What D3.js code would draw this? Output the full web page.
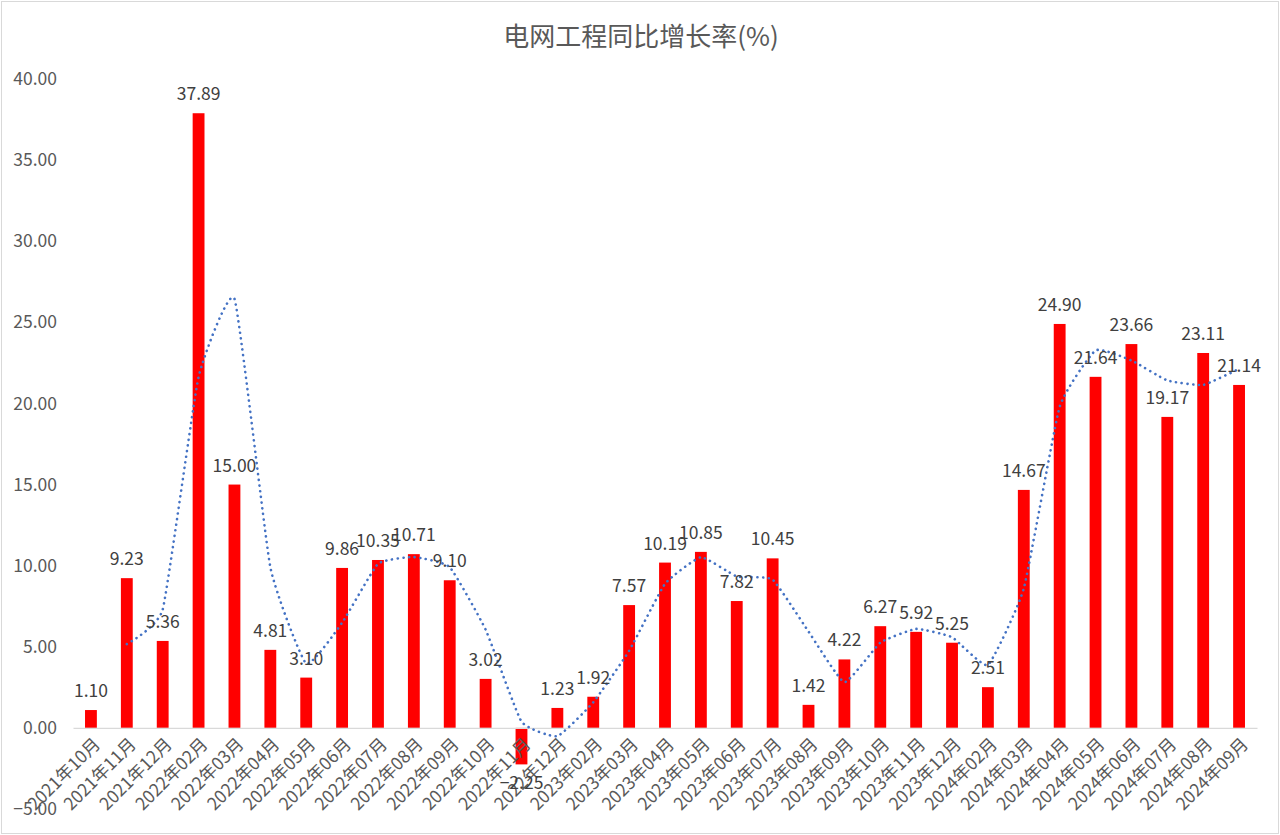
<!DOCTYPE html>
<html><head><meta charset="utf-8">
<script src="https://cdn.jsdelivr.net/npm/d3@7/dist/d3.min.js"></script>
<style>body{margin:0;background:#fff}svg{display:block}text{font-family:"Noto Sans CJK SC","Noto Sans",sans-serif}</style>
</head><body>
<svg id="c" width="1280" height="835"></svg>
<script>
const categories = ["2021年10月","2021年11月","2021年12月","2022年02月","2022年03月","2022年04月","2022年05月","2022年06月","2022年07月","2022年08月","2022年09月","2022年10月","2022年11月","2022年12月","2023年02月","2023年03月","2023年04月","2023年05月","2023年06月","2023年07月","2023年08月","2023年09月","2023年10月","2023年11月","2023年12月","2024年02月","2024年03月","2024年04月","2024年05月","2024年06月","2024年07月","2024年08月","2024年09月"];
const values = [1.10,9.23,5.36,37.89,15.00,4.81,3.10,9.86,10.35,10.71,9.10,3.02,-2.25,1.23,1.92,7.57,10.19,10.85,7.82,10.45,1.42,4.22,6.27,5.92,5.25,2.51,14.67,24.90,21.64,23.66,19.17,23.11,21.14];
// 2-period moving average trendline
const trend = [null,5.17,7.30,21.63,26.45,9.91,3.96,6.48,10.11,10.53,9.91,6.06,0.39,-0.51,1.58,4.75,8.88,10.52,9.34,9.14,5.94,2.82,5.25,6.10,5.59,3.88,8.59,19.79,23.27,22.65,21.42,21.14,22.13];
const yTicks = [-5,0,5,10,15,20,25,30,35,40];
const title = "电网工程同比增长率(%)";

const svg = d3.select("#c");
svg.append("rect").attr("x",1.5).attr("y",1.5).attr("width",1277).attr("height",832)
  .attr("fill","#fff").attr("stroke","#d9d9d9");

const x = d3.scaleBand().domain(categories).range([73,1257]).paddingInner(0.67).paddingOuter(0.335);
const y = d3.scaleLinear().domain([-5,40]).range([809,79]);

svg.append("text").attr("x",641).attr("y",46).attr("text-anchor","middle")
  .attr("font-size",26).attr("fill","#595959").text(title);

// y axis labels
const ya = svg.append("g").attr("transform","translate(57,0)")
  .call(d3.axisLeft(y).tickValues(yTicks).tickSize(0).tickPadding(0).tickFormat(d3.format(".2f")));
ya.select(".domain").remove();
ya.selectAll("text").attr("font-size",17.5).attr("fill","#595959")
  .attr("font-family","'Noto Sans CJK SC','Noto Sans',sans-serif");

// bars
svg.append("g").selectAll("rect").data(values).join("rect")
  .attr("x",(d,i)=>x(categories[i])).attr("width",x.bandwidth())
  .attr("y",d=>y(Math.max(0,d))).attr("height",d=>Math.abs(y(d)-y(0)))
  .attr("fill","#ff0000");

// zero axis line
const xa = svg.append("g").attr("transform",`translate(0,${y(0)})`)
  .call(d3.axisBottom(x).tickSize(0).tickFormat(""));
xa.select(".domain").attr("stroke","#d9d9d9").attr("stroke-width",1.3);

// category labels
svg.append("g").selectAll("text").data(categories).join("text")
  .attr("transform",d=>`translate(${x(d)+x.bandwidth()/2+7},742) rotate(-45)`)
  .attr("text-anchor","end").attr("dominant-baseline","middle")
  .attr("font-size",17.5).attr("fill","#595959").text(d=>d);

// trend line
const line = d3.line().defined(d=>d!=null)
  .x((d,i)=>x(categories[i])+x.bandwidth()/2).y(d=>y(d)).curve(d3.curveCardinal.tension(0.6));
svg.append("path").datum(trend).attr("d",line).attr("fill","none")
  .attr("stroke","#4472c4").attr("stroke-width",2.6).attr("stroke-linecap","round")
  .attr("stroke-dasharray","0.1 5.6");

// data labels
svg.append("g").selectAll("text").data(values).join("text")
  .attr("x",(d,i)=>x(categories[i])+x.bandwidth()/2)
  .attr("y",d=>d>=0 ? y(d)-13 : y(d)+25)
  .attr("text-anchor","middle").attr("font-size",17.5).attr("fill","#404040")
  .text(d=>d3.format(".2f")(d));
</script>
</body></html>
